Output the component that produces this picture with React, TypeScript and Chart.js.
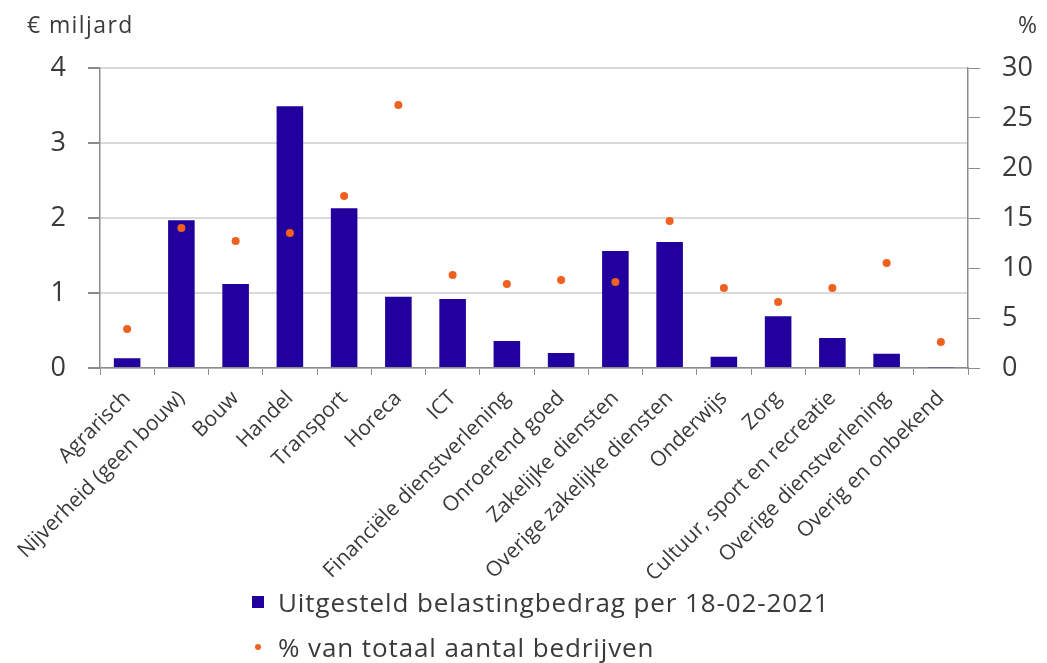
import React, { useEffect, useRef } from "react";
import { Chart, registerables } from "chart.js";

Chart.register(...registerables);

// sectoren
const sectors = [
  "Agrarisch",
  "Nijverheid (geen bouw)",
  "Bouw",
  "Handel",
  "Transport",
  "Horeca",
  "ICT",
  "Financiële dienstverlening",
  "Onroerend goed",
  "Zakelijke diensten",
  "Overige zakelijke diensten",
  "Onderwijs",
  "Zorg",
  "Cultuur, sport en recreatie",
  "Overige dienstverlening",
  "Overig en onbekend",
];

// € miljard, linker as
const deferredTax = [0.13, 1.97, 1.12, 3.49, 2.13, 0.95, 0.92, 0.36, 0.2, 1.56, 1.68, 0.15, 0.69, 0.4, 0.19, 0.01];

// %, rechter as
const shareOfFirms = [3.9, 14.0, 12.7, 13.5, 17.2, 26.3, 9.3, 8.4, 8.8, 8.6, 14.7, 8.0, 6.6, 8.0, 10.5, 2.6];

const barLabel = "Uitgesteld belastingbedrag per 18-02-2021";
const dotLabel = "% van totaal aantal bedrijven";

const BLUE = "#22009e";
const ORANGE = "#f0601e";
const FONT = "'Open Sans', sans-serif";
const TEXT = "#3a3a3a";
const AXIS = "#8c8c8c";

const W = 1047;
const H = 663;

const App: React.FC = () => {
  const canvasRef = useRef<HTMLCanvasElement | null>(null);
  const chartRef = useRef<Chart | null>(null);

  useEffect(() => {
    if (!canvasRef.current) return;
    if (chartRef.current) chartRef.current.destroy();

    chartRef.current = new Chart(canvasRef.current, {
      type: "bar",
      data: {
        labels: sectors,
        datasets: [
          {
            type: "line",
            label: dotLabel,
            data: shareOfFirms,
            yAxisID: "y1",
            showLine: false,
            pointRadius: 4,
            pointBackgroundColor: ORANGE,
            pointBorderWidth: 0,
            order: 0,
          },
          {
            type: "bar",
            label: barLabel,
            data: deferredTax,
            yAxisID: "y",
            backgroundColor: BLUE,
            barPercentage: 0.49,
            categoryPercentage: 1,
            order: 1,
          },
        ],
      },
      options: {
        responsive: false,
        animation: false,
        layout: { padding: { top: 68, left: 0, right: 0, bottom: 0 } },
        plugins: {
          legend: { display: false },
          tooltip: { enabled: false },
        },
        scales: {
          x: {
            grid: {
              drawOnChartArea: false,
              drawTicks: true,
              tickLength: 7,
              tickColor: AXIS,
              offset: true,
            },
            border: { color: AXIS, width: 1.5 },
            ticks: {
              autoSkip: false,
              minRotation: 45,
              maxRotation: 45,
              padding: 11,
              color: TEXT,
              font: { family: FONT, size: 21 },
            },
            afterFit: (scale: any) => {
              scale.height = H - 368;
            },
          },
          y: {
            position: "left",
            min: 0,
            max: 4,
            ticks: {
              stepSize: 1,
              padding: 22,
              color: TEXT,
              font: { family: FONT, size: 27 },
            },
            grid: {
              color: "#dadada",
              lineWidth: 2,
              tickLength: 12,
              tickColor: AXIS,
            },
            border: { color: AXIS, width: 1.5 },
            afterFit: (scale: any) => {
              scale.width = 100;
            },
          },
          y1: {
            position: "right",
            min: 0,
            max: 30,
            ticks: {
              stepSize: 5,
              padding: 22,
              color: TEXT,
              font: { family: FONT, size: 27 },
            },
            grid: {
              drawOnChartArea: false,
              tickLength: 12,
              tickColor: AXIS,
            },
            border: { color: AXIS, width: 1.5 },
            afterFit: (scale: any) => {
              scale.width = W - 968;
            },
          },
        },
      },
    });

    return () => {
      if (chartRef.current) {
        chartRef.current.destroy();
        chartRef.current = null;
      }
    };
  }, []);

  return (
    <div style={{ position: "absolute", left: 0, top: 0, width: W, height: H, background: "#fff", fontFamily: FONT, color: TEXT }}>
      <canvas ref={canvasRef} width={W} height={H} style={{ position: "absolute", left: 0, top: 0 }}></canvas>
      <div style={{ position: "absolute", left: 27, top: 8, fontSize: 23, lineHeight: "32px", letterSpacing: 1.4 }}>€ miljard</div>
      <div style={{ position: "absolute", right: 10, top: 8, fontSize: 23, lineHeight: "32px" }}>%</div>
      <div style={{ position: "absolute", left: 252, top: 581, fontSize: 26, lineHeight: "36px", letterSpacing: 0.9, whiteSpace: "nowrap" }}>
        <span style={{ display: "inline-block", width: 12, height: 12, background: BLUE, marginRight: 14, verticalAlign: "middle" }}></span>
        <span style={{ verticalAlign: "middle" }}>{barLabel}</span>
      </div>
      <div style={{ position: "absolute", left: 252, top: 626, fontSize: 26, lineHeight: "36px", letterSpacing: 0.9, whiteSpace: "nowrap" }}>
        <span style={{ display: "inline-block", width: 6, height: 6, borderRadius: 3, background: ORANGE, marginLeft: 3, marginRight: 17, verticalAlign: "middle" }}></span>
        <span style={{ verticalAlign: "middle" }}>{dotLabel}</span>
      </div>
    </div>
  );
};

export default App;
